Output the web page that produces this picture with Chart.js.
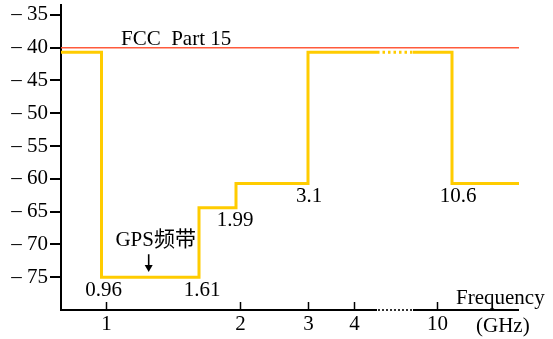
<!DOCTYPE html>
<html><head><meta charset="utf-8">
<script src="https://cdn.jsdelivr.net/npm/chart.js@4.4.0/dist/chart.umd.min.js"></script>
<style>html,body{margin:0;padding:0;background:#fff}#wrap{width:553px;height:339px;position:relative}</style>
</head><body><div id="wrap"><canvas id="c"></canvas></div>
<script>
// ---- data ----
const maskFreq  = [0.9, 0.96, 0.96, 1.61, 1.61, 1.99, 1.99, 3.1, 3.1, 5, 8, 10.6, 10.6, 12];
const maskLevel = [-40.7, -40.7, -75, -75, -64.4, -64.4, -60.7, -60.7, -40.7, -40.7, -40.7, -40.7, -60.7, -60.7];
const fccFreq   = [0.9, 12];
const fccLevel  = [-40, -40];
const xTickFreq   = [1, 2, 3, 4, 10];
const xTickLabels = ['1', '2', '3', '4', '10'];
const yTickValues = [-35, -40, -45, -50, -55, -60, -65, -70, -75];
const edgeLabels = ['0.96', '1.61', '1.99', '3.1', '10.6'];
const edgeFreq   = [0.96, 1.61, 1.99, 3.1, 10.6];
const edgeLevel  = [-75, -75, -64.4, -60.7, -60.7];
const breakFreq  = [5, 8];          // broken (dotted) part of the frequency axis
const gpsFreq = 1.28;

// ---- non-uniform (hand-drawn, broken) frequency axis geometry ----
const AXIS_FREQ = [0.9, 0.96, 1, 1.61, 1.99, 2, 3, 3.1, 4, 5, 8, 10, 10.6, 12];
const AXIS_POS  = [0, 40.5, 45, 138, 175, 179, 246.5, 247, 293, 316, 352, 376, 391, 458];
function toPos(f) {
  for (let i = 0; i < AXIS_FREQ.length - 1; i++) {
    if (f <= AXIS_FREQ[i + 1]) {
      const t = (f - AXIS_FREQ[i]) / (AXIS_FREQ[i + 1] - AXIS_FREQ[i]);
      return AXIS_POS[i] + t * (AXIS_POS[i + 1] - AXIS_POS[i]);
    }
  }
  return AXIS_POS[AXIS_POS.length - 1];
}

const FONT = '"Liberation Serif", "Times New Roman", serif';
const CJK = '"Liberation Serif", "Noto Sans CJK SC", serif';
const FS = 21;
const edgeDx = [2, 3, -1, 1, 6];

const overlay = {
  id: 'overlay',
  afterDraw(chart) {
    const ctx = chart.ctx, xs = chart.scales.x, ys = chart.scales.y, a = chart.chartArea;
    const px = f => xs.getPixelForValue(toPos(f));
    const y0 = a.bottom;
    ctx.save();
    ctx.strokeStyle = '#000'; ctx.lineWidth = 2;
    // axis line with break
    const b0 = px(breakFreq[0]), b1 = px(breakFreq[1]);
    ctx.beginPath(); ctx.moveTo(a.left - 1, y0); ctx.lineTo(b0, y0); ctx.stroke();
    ctx.beginPath(); ctx.moveTo(b1, y0); ctx.lineTo(a.right, y0); ctx.stroke();
    ctx.setLineDash([2, 2]); ctx.lineWidth = 1.6;
    ctx.beginPath(); ctx.moveTo(b0 + 1, y0); ctx.lineTo(b1, y0); ctx.stroke();
    ctx.setLineDash([]);
    // ticks
    ctx.lineWidth = 1.5;
    ctx.fillStyle = '#000';
    ctx.font = FS + 'px ' + FONT;
    ctx.textAlign = 'center'; ctx.textBaseline = 'middle';
    xTickFreq.forEach((f, i) => {
      const x = Math.round(px(f)) + 0.5;
      ctx.beginPath(); ctx.moveTo(x, y0); ctx.lineTo(x, y0 - 8); ctx.stroke();
      ctx.fillText(xTickLabels[i], x, y0 + 14);
    });
    // edge labels
    edgeLabels.forEach((t, i) => {
      ctx.fillText(t, px(edgeFreq[i]) + edgeDx[i], ys.getPixelForValue(edgeLevel[i]) + 13);
    });
    // axis title
    ctx.textAlign = 'left';
    ctx.fillText('Frequency', a.right - 63, y0 - 12);
    ctx.fillText('(GHz)', a.right - 43, y0 + 16);
    // FCC label
    ctx.textBaseline = 'alphabetic';
    ctx.fillText('FCC  Part 15', 121, ys.getPixelForValue(-40) - 3);
    // GPS label + arrow
    ctx.textAlign = 'center'; ctx.textBaseline = 'middle';
    ctx.font = FS + 'px ' + CJK;
    const gx = px(gpsFreq);
    ctx.fillText('GPS频带', gx + 7, ys.getPixelForValue(-69.4));
    const ya = ys.getPixelForValue(-71.5), yb = ys.getPixelForValue(-74.2);
    ctx.lineWidth = 1.6;
    ctx.beginPath(); ctx.moveTo(gx, ya); ctx.lineTo(gx, yb - 5); ctx.stroke();
    ctx.beginPath(); ctx.moveTo(gx - 4, yb - 7); ctx.lineTo(gx + 4, yb - 7); ctx.lineTo(gx, yb); ctx.closePath(); ctx.fill();
    ctx.restore();
  }
};

new Chart(document.getElementById('c'), {
  type: 'line',
  data: {
    datasets: [
      {
        data: fccFreq.map((f, i) => ({ x: toPos(f), y: fccLevel[i] })),
        borderColor: '#FF5A3C', borderWidth: 1.5, pointRadius: 0, fill: false
      },
      {
        data: maskFreq.map((f, i) => ({ x: toPos(f), y: maskLevel[i] })),
        borderColor: '#FFCC00', borderWidth: 3, pointRadius: 0, fill: false,
        borderJoinStyle: 'miter',
        segment: { borderDash: c => (maskFreq[c.p0DataIndex] === breakFreq[0] ? [2.5, 3] : undefined) }
      }
    ]
  },
  options: {
    responsive: true, maintainAspectRatio: false, animation: false,
    layout: { padding: { left: 0, right: 34, top: 5, bottom: 29 } },
    plugins: { legend: { display: false }, tooltip: { enabled: false } },
    scales: {
      x: { type: 'linear', min: 0, max: 458, display: false },
      y: {
        min: -80, max: -33.5,
        afterBuildTicks: s => { s.ticks = yTickValues.map(v => ({ value: v })); },
        afterFit: s => { s.width = 61; s.paddingTop = 0; s.paddingBottom = 0; },
        ticks: { callback: v => '\u2013 ' + Math.abs(v), color: '#000', font: { family: FONT, size: FS }, padding: 2 },
        grid: { drawOnChartArea: false, tickLength: 11, color: '#000', lineWidth: 2 },
        border: { display: true, color: '#000', width: 2 }
      }
    }
  },
  plugins: [overlay]
});
</script></body></html>
